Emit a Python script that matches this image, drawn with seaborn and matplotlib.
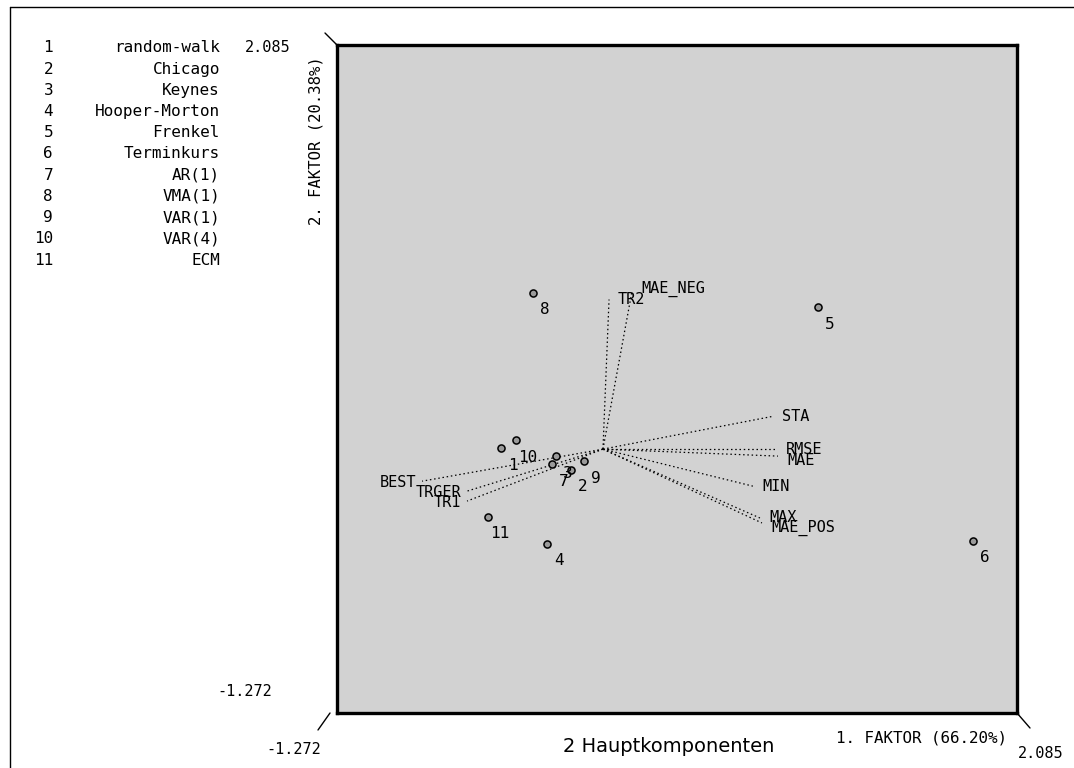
import numpy as np
import pandas as pd
import matplotlib
matplotlib.use("Agg")
import matplotlib.pyplot as plt
from matplotlib.lines import Line2D
import seaborn as sns

# ---------------- data ----------------
model_ids = [1, 2, 3, 4, 5, 6, 7, 8, 9, 10, 11]
model_names = ["random-walk", "Chicago", "Keynes", "Hooper-Morton", "Frenkel",
               "Terminkurs", "AR(1)", "VMA(1)", "VAR(1)", "VAR(4)", "ECM"]
score_f1 = [-0.463, -0.117, -0.191, -0.235, 1.102, 1.867, -0.211, -0.305, -0.053, -0.389, -0.527]
score_f2 = [0.059, -0.051, 0.019, -0.422, 0.766, -0.407, -0.021, 0.841, -0.006, 0.099, -0.287]

vec_names = ["MAE_NEG", "TR2", "STA", "RMSE", "MAE", "MIN", "MAX", "MAE_POS", "BEST", "TRGER", "TR1"]
vec_f1 = [0.184, 0.071, 0.880, 0.900, 0.905, 0.781, 0.816, 0.826, -0.852, -0.630, -0.630]
vec_f2 = [0.846, 0.806, 0.219, 0.054, 0.019, -0.132, -0.292, -0.317, -0.107, -0.157, -0.207]
vec_origin = [0.041, 0.054]

axis_min = -1.272
axis_max = 2.085
x_title = "1. FAKTOR (66.20%)"
y_title = "2. FAKTOR (20.38%)"
main_title = "2 Hauptkomponenten"

# ---------------- style ----------------
sns.set_style("white")
plt.rcParams["font.family"] = ["DejaVu Sans Mono", "DejaVu Sans"]
plt.rcParams["text.color"] = "black"

W, H = 1074, 768
fig = plt.figure(figsize=(W / 100, H / 100), dpi=100)
fig.patch.set_facecolor("white")

def fx(px):
    return px / W

def fy(py):
    return 1 - py / H

L, R, T, B = 337, 1017, 45, 713
ax = fig.add_axes([fx(L), fy(B), fx(R) - fx(L), fy(T) - fy(B)])
ax.set_facecolor("#d2d2d2")
for s in ax.spines.values():
    s.set_visible(True)
    s.set_color("black")
    s.set_linewidth(2.4)
ax.set_xlim(axis_min, axis_max)
ax.set_ylim(axis_min, axis_max)
ax.set_xticks([])
ax.set_yticks([])

# small vertical nudges for crowded vector labels (points)
label_dy = {"MAE_NEG": 2, "MAE": -3, "MAX": 0.5, "MAE_POS": -3.5, "BEST": -1, "TRGER": -1, "TR1": -1}

# vectors (dotted)
for name, vx, vy in zip(vec_names, vec_f1, vec_f2):
    ax.plot([vec_origin[0], vx], [vec_origin[1], vy], color="black",
            lw=0.9, linestyle=(0, (1.2, 2.2)), zorder=2)
    dy = label_dy.get(name, 0)
    if vx >= vec_origin[0]:
        ax.annotate(name, (vx, vy), xytext=(6.5, dy), textcoords="offset points",
                    ha="left", va="center", fontsize=11, color="black", zorder=4)
    else:
        ax.annotate(name, (vx, vy), xytext=(-4, dy), textcoords="offset points",
                    ha="right", va="center", fontsize=11, color="black", zorder=4)

# scores
df = pd.DataFrame({"f1": score_f1, "f2": score_f2, "id": model_ids})
sns.scatterplot(data=df, x="f1", y="f2", ax=ax, marker="o", s=26,
                facecolor="#9a9a9a", edgecolor="black", linewidth=1.1,
                zorder=5, legend=False)
ax.set_xlabel("")
ax.set_ylabel("")
for i, x, y in zip(model_ids, score_f1, score_f2):
    ax.annotate(str(i), (x, y), xytext=(8.6, -12.2), textcoords="offset points",
                ha="center", va="center", fontsize=11.5, color="black", zorder=6)

# ---------------- legend list ----------------
row0, rstep = 48, 21.2
for k, (i, n) in enumerate(zip(model_ids, model_names)):
    yy = fy(row0 + k * rstep)
    fig.text(fx(53), yy, str(i), ha="right", va="center", fontsize=11.5, color="black")
    fig.text(fx(220), yy, n, ha="right", va="center", fontsize=11.5, color="black")

# axis range labels
fig.text(fx(290), fy(47), f"{axis_max:.3f}", ha="right", va="center", fontsize=11, color="black")
fig.text(fx(272), fy(692), f"{axis_min:.3f}", ha="right", va="center", fontsize=11, color="black")
fig.text(fx(294), fy(749), f"{axis_min:.3f}", ha="center", va="center", fontsize=11, color="black")
fig.text(fx(1041), fy(753), f"{axis_max:.3f}", ha="center", va="center", fontsize=11, color="black")

# axis titles
fig.text(fx(316), fy(141), y_title, rotation=90, ha="center", va="center", fontsize=11.2, color="black")
fig.text(fx(922), fy(738), x_title, ha="center", va="center", fontsize=11.4, color="black")
fig.text(fx(669), fy(747), main_title, ha="center", va="center", fontsize=14,
         family=["DejaVu Sans"], color="black")

# corner perspective strokes
for (x0, y0, x1, y1) in [(325, 33, 337, 45), (330, 713, 318, 730), (1017, 713, 1030, 728)]:
    fig.add_artist(Line2D([fx(x0), fx(x1)], [fy(y0), fy(y1)], color="black", lw=1.0))

# outer frame (left and top edges)
fig.add_artist(Line2D([fx(10), fx(10)], [fy(7), 0], color="black", lw=1.0))
fig.add_artist(Line2D([fx(10), 1], [fy(7), fy(7)], color="black", lw=1.0))

fig.savefig("out.png", dpi=100, facecolor="white")
